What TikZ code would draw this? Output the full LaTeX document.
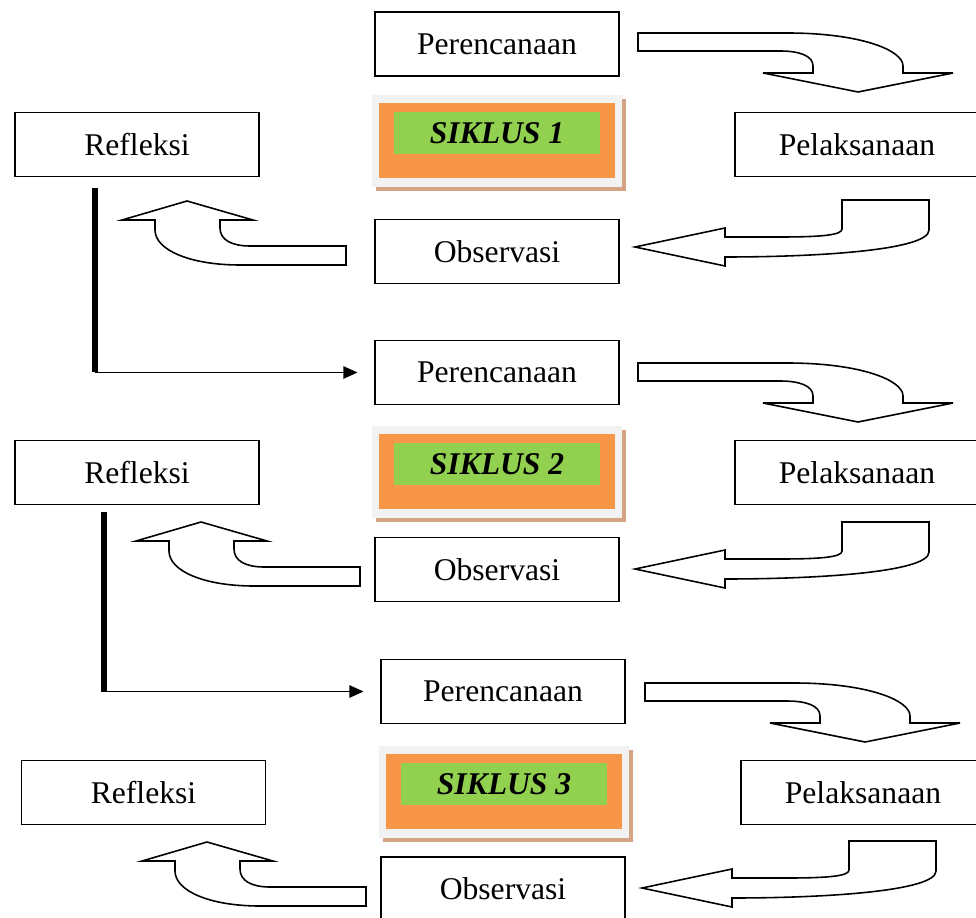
\documentclass[tikz,border=0pt]{standalone}
\usepackage{fontspec}
\setmainfont{Liberation Serif}
\usetikzlibrary{arrows.meta}
\definecolor{oranye}{HTML}{F79646}
\definecolor{hijau}{HTML}{92D050}
\definecolor{abu}{HTML}{F2F2F2}
\definecolor{bayang}{HTML}{D4A484}

\tikzset{
  kotak/.style={draw=black,line width=0.9pt,minimum width=4.88cm,minimum height=1.28cm,
    inner sep=0pt,font=\fontsize{18}{20}\selectfont},
  panah/.style={draw=black,line width=0.9pt,fill=white,line join=miter},
  garis/.style={line width=3.2pt},
  alur/.style={line width=0.9pt,-{Triangle[length=8pt,width=7pt]},shorten >=9.5pt},
  judul/.style={fill=hijau,minimum width=4.12cm,minimum height=0.84cm,inner sep=0pt,
    font=\fontsize{18}{20}\selectfont\bfseries\itshape}
}

\newcommand{\panahkanan}[2]{%
\begin{scope}[shift={(#1,#2)}]
\draw[panah] (638,33) -- (787,33) .. controls (860,33) and (903,50) .. (903,66) -- (903,73)
  -- (953,73) -- (858,92) -- (763,73) -- (813,73) -- (813,66)
  .. controls (813,56) and (800,51) .. (780,51) -- (638,51) -- cycle;
\end{scope}}

\newcommand{\panahkiri}[2]{%
\begin{scope}[shift={(#1,#2)}]
\draw[panah] (842,200) -- (929,200) -- (929,230) .. controls (929,250) and (820,257) .. (725,257)
  -- (725,266) -- (635,247) -- (725,228) -- (725,237) -- (780,237)
  .. controls (822,237) and (842,235) .. (842,229) -- cycle;
\end{scope}}

\newcommand{\panahatas}[2]{%
\begin{scope}[shift={(#1,#2)}]
\draw[panah] (346,246) -- (346,265) -- (240,265) .. controls (190,265) and (155,250) .. (155,230)
  -- (155,220) -- (122,220) -- (187,201) -- (253,220) -- (220,220) -- (220,228)
  .. controls (220,240) and (232,246) .. (250,246) -- cycle;
\end{scope}}

\newcommand{\kotaksiklus}[4]{%
\begin{scope}[shift={(#1,#2)}]
\fill[bayang] (376,99) rectangle (626,191);
\fill[abu] (372,95) rectangle (622,187);
\fill[oranye] (379,103) rectangle (615,178);
\node[judul] (#3) at (497,133) {#4};
\end{scope}}

\begin{document}
\begin{tikzpicture}[x=0.02cm,y=-0.02cm]
\useasboundingbox (0,0) rectangle (976,918);

\node[kotak] (per1) at (497,44) {Perencanaan};
\node[kotak] (ref1) at (137,144.5) {Refleksi};
\node[kotak] (pel1) at (857,144.5) {Pelaksanaan};
\node[kotak] (obs1) at (497,251.5) {Observasi};
\kotaksiklus{0}{0}{sik1}{SIKLUS 1}
\panahkanan{0}{0}
\panahkiri{0}{0}
\panahatas{0}{0}

\node[kotak] (per2) at (497,372.5) {Perencanaan};
\node[kotak] (ref2) at (137,472.5) {Refleksi};
\node[kotak] (pel2) at (857,472.5) {Pelaksanaan};
\node[kotak] (obs2) at (497,569.5) {Observasi};
\kotaksiklus{0}{331}{sik2}{SIKLUS 2}
\panahkanan{0}{330}
\panahkiri{0}{322}
\panahatas{14}{321}

\node[kotak] (per3) at (503,691.5) {Perencanaan};
\node[kotak] (ref3) at (143.5,792.5) {Refleksi};
\node[kotak] (pel3) at (863,792.5) {Pelaksanaan};
\node[kotak] (obs3) at (503,889) {Observasi};
\kotaksiklus{7}{651}{sik3}{SIKLUS 3}
\panahkanan{7}{650}
\panahkiri{7}{641}
\panahatas{20}{641}

\coordinate (g1) at (95,188);
\draw[garis] (g1) -- (g1 |- per2.west);
\draw[alur] (g1 |- per2.west) -- (per2.west);

\coordinate (g2) at (104,512);
\draw[garis] (g2) -- (g2 |- per3.west);
\draw[alur] (g2 |- per3.west) -- (per3.west);
\end{tikzpicture}
\end{document}
